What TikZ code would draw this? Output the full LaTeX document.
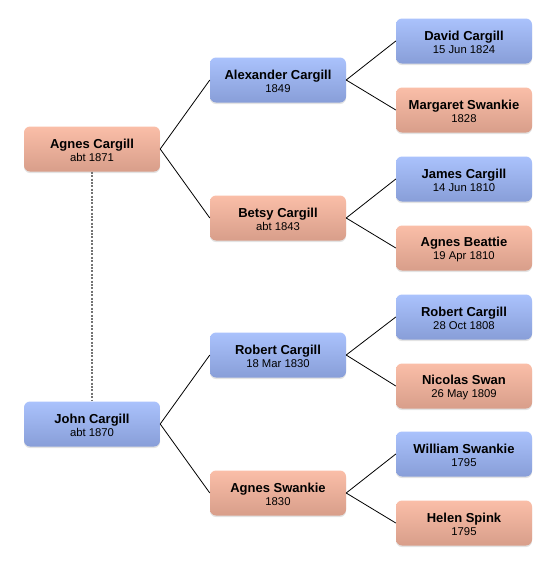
\documentclass[tikz,border=0pt]{standalone}
\usepackage{fontspec}
\setmainfont{Liberation Sans}
\usepackage{tikz}
\usetikzlibrary{shapes,shadows}
\definecolor{maletop}{RGB}{170,194,252}
\definecolor{malebot}{RGB}{136,158,216}
\definecolor{femtop}{RGB}{250,190,168}
\definecolor{fembot}{RGB}{216,158,138}
\tikzstyle{person}=[rectangle, rounded corners=6pt, minimum width=136pt, minimum height=45pt,% a shading from top to bottom...
align=center, inner sep=2pt, font=\fontsize{11.3}{13.5}\selectfont,
drop shadow={opacity=0.22, shadow xshift=0pt, shadow yshift=-1.5pt}]
\tikzstyle{male}=[person, top color=maletop, bottom color=malebot]
\tikzstyle{female}=[person, top color=femtop, bottom color=fembot]
\tikzstyle{link}=[line width=0.8pt]
\tikzstyle{couple}=[line width=1.1pt, black!55, dash pattern=on 2pt off 1.4pt]
\newcommand{\pname}[2]{\rule{0pt}{12pt}{\fontsize{13}{13.5}\selectfont\bfseries #1}\\#2}

\begin{document}
\begin{tikzpicture}[x=1pt,y=-1pt]
\useasboundingbox (0,0) rectangle (556,574);
\node[female] (AC) at (92, 149) {\pname{Agnes Cargill}{abt 1871}};
\node[male] (JC) at (92, 424) {\pname{John Cargill}{abt 1870}};
\node[male] (AlC) at (278, 80) {\pname{Alexander Cargill}{1849}};
\node[female] (BC) at (278, 218) {\pname{Betsy Cargill}{abt 1843}};
\node[male] (RC) at (278, 355) {\pname{Robert Cargill}{18 Mar 1830}};
\node[female] (AS) at (278, 493) {\pname{Agnes Swankie}{1830}};
\node[male] (DC) at (464, 41) {\pname{David Cargill}{15 Jun 1824}};
\node[female] (MS) at (464, 110) {\pname{Margaret Swankie}{1828}};
\node[male] (JaC) at (464, 179) {\pname{James Cargill}{14 Jun 1810}};
\node[female] (AB) at (464, 248) {\pname{Agnes Beattie}{19 Apr 1810}};
\node[male] (RoC) at (464, 317) {\pname{Robert Cargill}{28 Oct 1808}};
\node[female] (NS) at (464, 386) {\pname{Nicolas Swan}{26 May 1809}};
\node[male] (WS) at (464, 454) {\pname{William Swankie}{1795}};
\node[female] (HS) at (464, 523) {\pname{Helen Spink}{1795}};
\draw[couple] (AC) -- (JC);
\draw[link] (AC.east) -- (AlC.west);
\draw[link] (AC.east) -- (BC.west);
\draw[link] (JC.east) -- (RC.west);
\draw[link] (JC.east) -- (AS.west);
\draw[link] (AlC.east) -- (DC.west);
\draw[link] (AlC.east) -- (MS.west);
\draw[link] (BC.east) -- (JaC.west);
\draw[link] (BC.east) -- (AB.west);
\draw[link] (RC.east) -- (RoC.west);
\draw[link] (RC.east) -- (NS.west);
\draw[link] (AS.east) -- (WS.west);
\draw[link] (AS.east) -- (HS.west);
\end{tikzpicture}
\end{document}
